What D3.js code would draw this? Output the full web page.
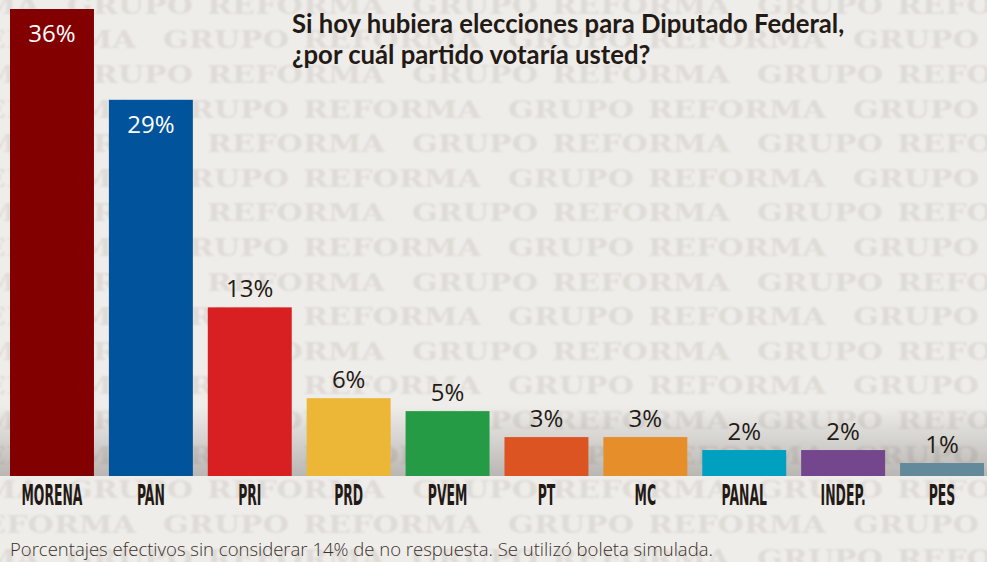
<!DOCTYPE html>
<html>
<head>
<meta charset="utf-8">
<script src="https://cdn.jsdelivr.net/npm/d3@7"></script>
<style>
  html, body { margin: 0; padding: 0; background: #efecea; }
  svg { display: block; }
</style>
</head>
<body>
<svg id="chart" width="987" height="562"></svg>
<script>
// ---- data ----
const categories = ["MORENA", "PAN", "PRI", "PRD", "PVEM", "PT", "MC", "PANAL", "INDEP.", "PES"];
const values = [36, 29, 13, 6, 5, 3, 3, 2, 2, 1];
const barColors = ["#830000", "#01539c", "#d81f22", "#ecb737", "#259b45", "#dd5423", "#e58e2a", "#01a0c0", "#73468e", "#628a9a"];
const titleLines = ["Si hoy hubiera elecciones para Diputado Federal,", "¿por cuál partido votaría usted?"];
const footnote = "Porcentajes efectivos sin considerar 14% de no respuesta. Se utilizó boleta simulada.";
const watermarkWords = ["GRUPO", "REFORMA"];

const W = 987, H = 562;
const svg = d3.select("#chart");
const ink = "#231a15";

// ---- background ----
svg.append("rect").attr("width", W).attr("height", H).attr("fill", "#efedea");

const defs = svg.append("defs");
defs.append("filter").attr("id", "soft")
  .attr("x", "-5%").attr("y", "-20%").attr("width", "110%").attr("height", "140%")
  .append("feGaussianBlur").attr("stdDeviation", 1.3);

const grad = defs.append("linearGradient").attr("id", "shade")
  .attr("x1", 0).attr("y1", 0).attr("x2", 0).attr("y2", 1);
grad.append("stop").attr("offset", "0%").attr("stop-color", "#3c3732").attr("stop-opacity", 0);
grad.append("stop").attr("offset", "100%").attr("stop-color", "#3c3732").attr("stop-opacity", 0.3);

// watermark rows (background texture)
const wm = svg.append("g").attr("filter", "url(#soft)")
  .attr("fill", "#dfdbd7")
  .style("font-family", "'DejaVu Serif', serif")
  .style("font-weight", "bold")
  .style("font-size", "24px");
const period = 345, wGrupo = 126, wRef = 178, gapIn = 14;
for (let r = 0; r < 17; r++) {
  const cy = 5.2 + r * 34.6;
  const base = cy + 8.5;
  const start = (r % 2 === 0 ? 67 : 163) - period;
  for (let x0 = start; x0 < W + period; x0 += period) {
    wm.append("text").attr("x", x0).attr("y", base)
      .attr("textLength", wGrupo).attr("lengthAdjust", "spacingAndGlyphs")
      .text(watermarkWords[0]);
    wm.append("text").attr("x", x0 + wGrupo + gapIn).attr("y", base)
      .attr("textLength", wRef).attr("lengthAdjust", "spacingAndGlyphs")
      .text(watermarkWords[1]);
  }
}

// ---- scales ----
const x = d3.scaleBand().domain(categories).range([10, 984]).paddingInner(0.151).paddingOuter(0);
const y = d3.scaleLinear().domain([0, 36]).range([476, 9]);
const color = d3.scaleOrdinal().domain(categories).range(barColors);

// ground shadow near the baseline
svg.append("rect").attr("x", 0).attr("y", y(0) - 70).attr("width", W).attr("height", 70)
  .attr("fill", "url(#shade)");

const data = categories.map((c, i) => ({ cat: c, v: values[i] }));

// ---- bars ----
svg.append("g").selectAll("rect").data(data).join("rect")
  .attr("x", d => x(d.cat))
  .attr("y", d => y(d.v))
  .attr("width", x.bandwidth())
  .attr("height", d => y(0) - y(d.v))
  .attr("fill", d => color(d.cat));

// ---- value labels ----
svg.append("g").selectAll("text").data(data).join("text")
  .attr("x", d => x(d.cat) + x.bandwidth() / 2)
  .attr("y", d => d.v >= 20 ? y(d.v) + 33 : y(d.v) - 10)
  .attr("text-anchor", "middle")
  .attr("fill", d => d.v >= 20 ? "#ffffff" : ink)
  .style("font-family", "'Open Sans', sans-serif")
  .style("font-weight", 500)
  .style("font-size", "24px")
  .text(d => d.v + "%");

// ---- category axis ----
const axis = svg.append("g").attr("transform", `translate(0,${y(0)})`)
  .call(d3.axisBottom(x).tickSize(0).tickPadding(0));
axis.select(".domain").remove();
const labels = axis.selectAll("text")
  .attr("y", 29).attr("dy", null)
  .attr("fill", ink)
  .style("font-family", "'Liberation Sans Narrow', 'DejaVu Sans Condensed', 'Liberation Sans', sans-serif")
  .style("font-weight", "bold")
  .style("font-size", "28px");
// condense to match the compressed display face
let refW = 0;
labels.each(function (d) { if (d === "MORENA") refW = this.getComputedTextLength(); });
const sx = refW ? 61 / refW : 0.6;
labels.attr("transform", `scale(${sx},1)`);

// ---- title ----
const title = svg.append("g")
  .attr("fill", ink)
  .style("font-family", "Lato, 'Open Sans', sans-serif")
  .style("font-weight", "bold")
  .style("font-size", "25.7px");
title.selectAll("text").data(titleLines).join("text")
  .attr("x", 292)
  .attr("y", (d, i) => 33 + i * 31)
  .text(d => d);

// ---- footnote ----
svg.append("text")
  .attr("x", 10).attr("y", 556)
  .attr("fill", "#3a312b")
  .style("font-family", "'Open Sans', sans-serif")
  .style("font-weight", 300)
  .style("font-size", "18.5px")
  .text(footnote);
</script>
</body>
</html>
